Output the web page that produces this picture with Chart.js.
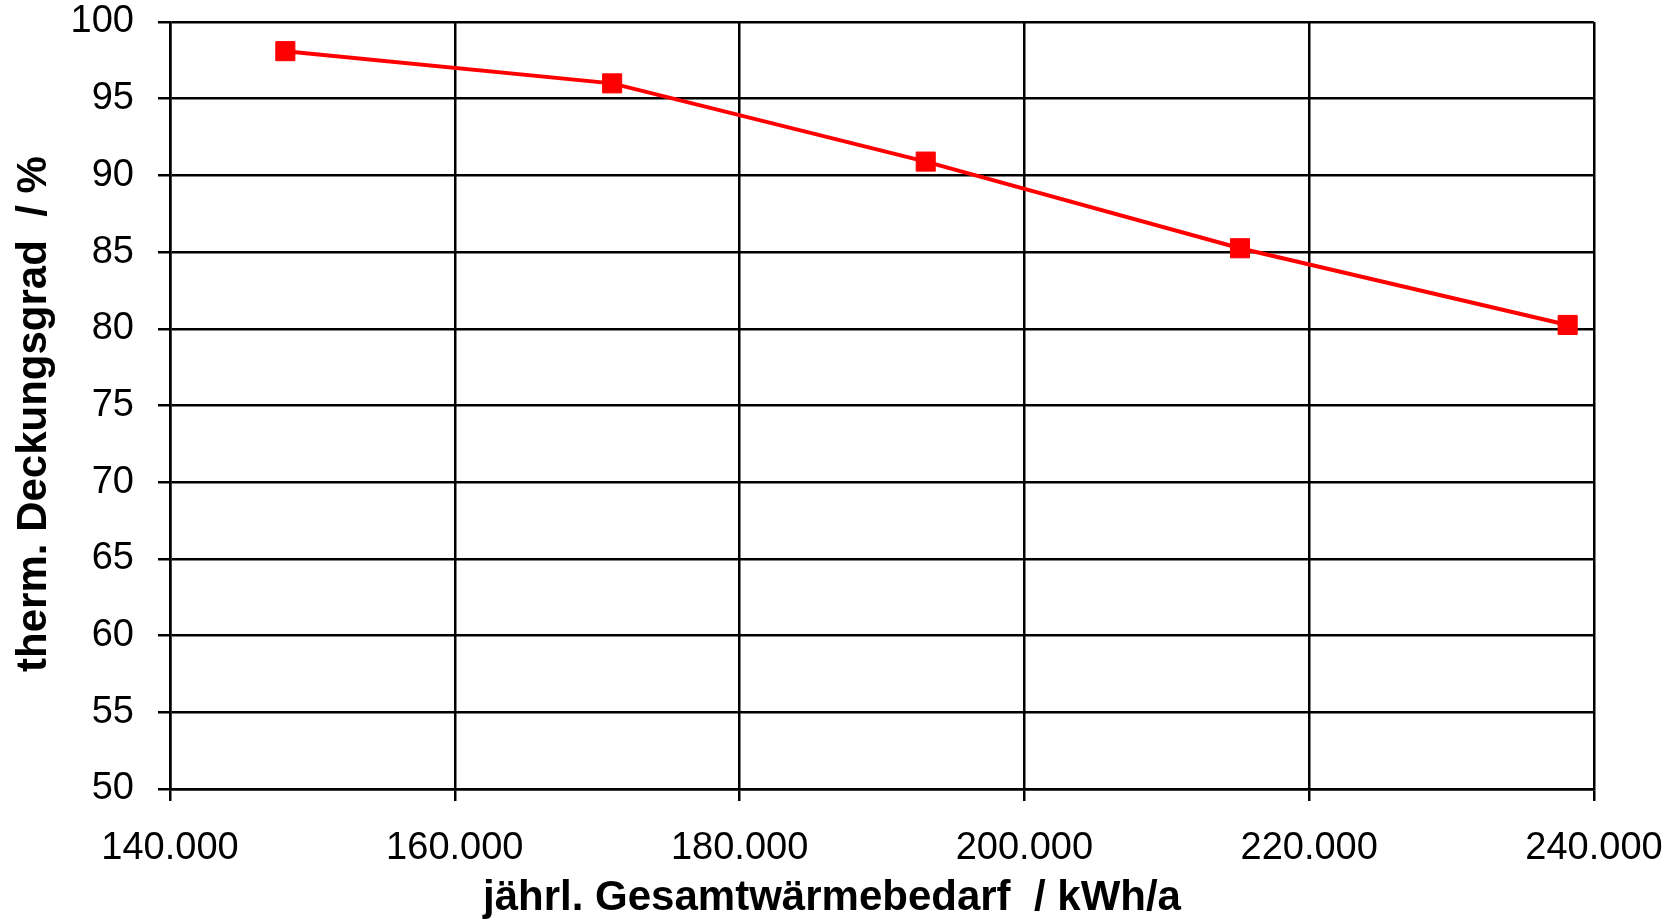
<!DOCTYPE html>
<html>
<head>
<meta charset="utf-8">
<script src="https://cdn.jsdelivr.net/npm/chart.js@4/dist/chart.umd.min.js"></script>
<style>
  html, body { margin: 0; padding: 0; background: #ffffff; }
  #wrap { width: 1680px; height: 921px; }
</style>
</head>
<body>
<div id="wrap"><canvas id="c" width="1680" height="921"></canvas></div>
<script>
// ---- data ----
const xValues = [148100, 171050, 193070, 215140, 238150];   // jährl. Gesamtwärmebedarf [kWh/a]
const yValues = [98.1, 96.0, 90.9, 85.25, 80.25];          // therm. Deckungsgrad [%]
const xTickLabels = ['140.000', '160.000', '180.000', '200.000', '220.000', '240.000'];
const yTickLabels = ['50', '55', '60', '65', '70', '75', '80', '85', '90', '95', '100'];
const xTitle = 'jährl. Gesamtwärmebedarf  / kWh/a';
const yTitle = 'therm. Deckungsgrad  / %';

const FONT = "'Liberation Sans', Arial, Helvetica, sans-serif";

const points = xValues.map((x, i) => ({ x: x, y: yValues[i] }));

// axis titles positioned like the original
const titlePlugin = {
  id: 'axisTitles',
  afterDraw(chart) {
    const ctx = chart.ctx;
    ctx.save();
    ctx.fillStyle = '#000000';
    ctx.font = 'bold 42px ' + FONT;
    ctx.textAlign = 'center';
    ctx.textBaseline = 'alphabetic';
    ctx.fillText(xTitle, 832, 910);
    ctx.translate(46, 414);
    ctx.rotate(-Math.PI / 2);
    ctx.fillText(yTitle, 0, 0);
    ctx.restore();
  }
};

new Chart(document.getElementById('c'), {
  type: 'scatter',
  data: {
    datasets: [{
      data: points,
      showLine: true,
      borderColor: '#ff0000',
      backgroundColor: '#ff0000',
      borderWidth: 4,
      pointStyle: 'rect',
      pointRadius: 13.5,
      pointBorderWidth: 1,
      pointBorderColor: '#ff0000',
      pointBackgroundColor: '#ff0000',
      tension: 0
    }]
  },
  options: {
    responsive: false,
    animation: false,
    devicePixelRatio: 1,
    layout: { padding: 0 },
    plugins: {
      legend: { display: false },
      tooltip: { enabled: false },
      title: { display: false }
    },
    scales: {
      x: {
        type: 'linear',
        min: 140000,
        max: 240000,
        afterFit(scale) {
          scale.height = 132;
          scale.paddingLeft = 0;
          scale.paddingRight = 86;
        },
        ticks: {
          stepSize: 20000,
          color: '#000000',
          font: { family: FONT, size: 38 },
          padding: 25,
          maxRotation: 0,
          callback: (v, i) => xTickLabels[i]
        },
        grid: { color: '#000000', lineWidth: 2.5, tickLength: 12, drawTicks: true },
        border: { color: '#000000', width: 2.5 }
      },
      y: {
        type: 'linear',
        min: 50,
        max: 100,
        afterFit(scale) {
          scale.width = 170;
          scale.paddingTop = 22;
          scale.paddingBottom = 0;
        },
        ticks: {
          stepSize: 5,
          color: '#000000',
          font: { family: FONT, size: 38 },
          padding: 24,
          callback: (v, i) => yTickLabels[i]
        },
        grid: { color: '#000000', lineWidth: 2.5, tickLength: 12, drawTicks: true },
        border: { color: '#000000', width: 2.5 }
      }
    }
  },
  plugins: [titlePlugin]
});
</script>
</body>
</html>
